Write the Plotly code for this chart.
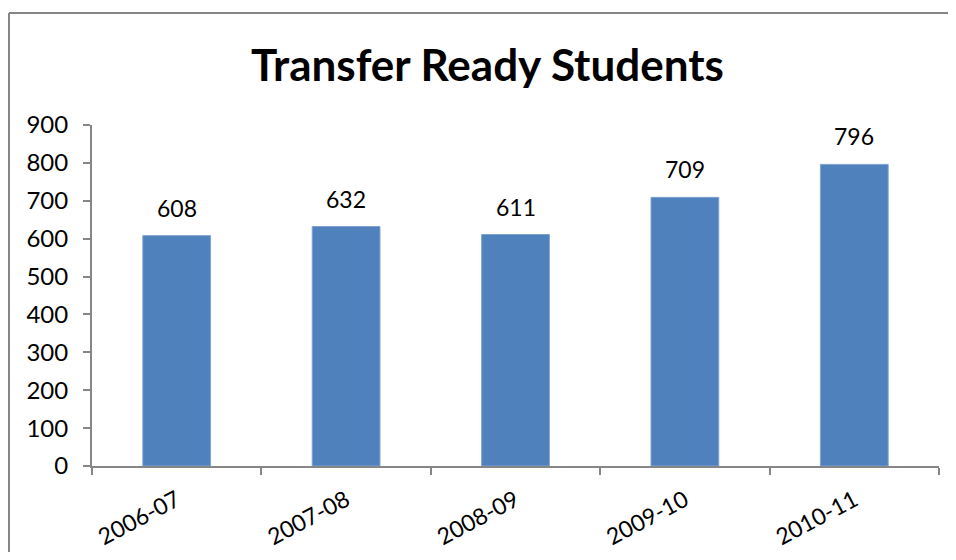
import plotly.graph_objects as go

categories = ["2006-07", "2007-08", "2008-09", "2009-10", "2010-11"]
values = [608, 632, 611, 709, 796]
y_ticks = [0, 100, 200, 300, 400, 500, 600, 700, 800, 900]

OFF = 8  # page body margin offset
W, H = 956 - 2 * OFF, 560 - 2 * OFF
ML = 92 - OFF
MT = 125 - OFF
MR = W - (939 - OFF)
MB = H - (466 - OFF)
pw = W - ML - MR
ph = H - MT - MB

def px_x(p):
    return (p - OFF - ML) / pw

def px_y(p):
    return (H - MB - (p - OFF)) / ph

FONT = "Lato"

fig = go.Figure(
    go.Bar(
        x=categories,
        y=values,
        marker=dict(color="#4F81BD", line=dict(color="#7FA3D1", width=1)),
        cliponaxis=False,
    )
)

for c, v in zip(categories, values):
    fig.add_annotation(
        x=c, y=v, text=str(v), showarrow=False,
        yanchor="bottom", yshift=12,
        font=dict(family=FONT, size=23, color="black"),
    )

fig.update_layout(
    width=W,
    height=H,
    margin=dict(l=ML, r=MR, t=MT, b=MB),
    paper_bgcolor="white",
    plot_bgcolor="white",
    bargap=0.6,
    showlegend=False,
    title=dict(
        text="<b>Transfer Ready Students</b>",
        x=(487.5 - OFF) / W,
        xanchor="center",
        y=1 - (66 - OFF) / H,
        yanchor="middle",
        font=dict(family=FONT, size=44, color="black"),
    ),
    font=dict(family=FONT, size=23, color="black"),
)

fig.update_xaxes(
    type="category",
    showline=True,
    linecolor="#868686",
    linewidth=2,
    ticks="outside",
    tickson="boundaries",
    ticklen=7,
    tickcolor="#868686",
    tickwidth=2,
    tickangle=-28,
    tickfont=dict(family=FONT, size=23, color="black"),
    showgrid=False,
    zeroline=False,
    ticklabelstandoff=10,
    automargin=False,
)

fig.update_yaxes(
    range=[0, 900],
    tickvals=y_ticks,
    showline=True,
    linecolor="#868686",
    linewidth=2,
    ticks="outside",
    ticklen=7,
    tickcolor="#868686",
    tickwidth=2,
    tickfont=dict(family=FONT, size=24, color="black"),
    showgrid=False,
    zeroline=False,
    ticklabelstandoff=10,
    automargin=False,
)

# outer chart border: only top and left edges are visible in the frame
fig.add_shape(
    type="line", xref="paper", yref="paper",
    x0=px_x(9), x1=px_x(975), y0=px_y(13), y1=px_y(13),
    line=dict(color="#868686", width=2), layer="below",
)
fig.add_shape(
    type="line", xref="paper", yref="paper",
    x0=px_x(9), x1=px_x(9), y0=px_y(13), y1=px_y(580),
    line=dict(color="#868686", width=2), layer="below",
)

fig.write_html(
    "out.html",
    config={"displayModeBar": False},
    post_script="document.body.style.overflow='hidden';",
)
